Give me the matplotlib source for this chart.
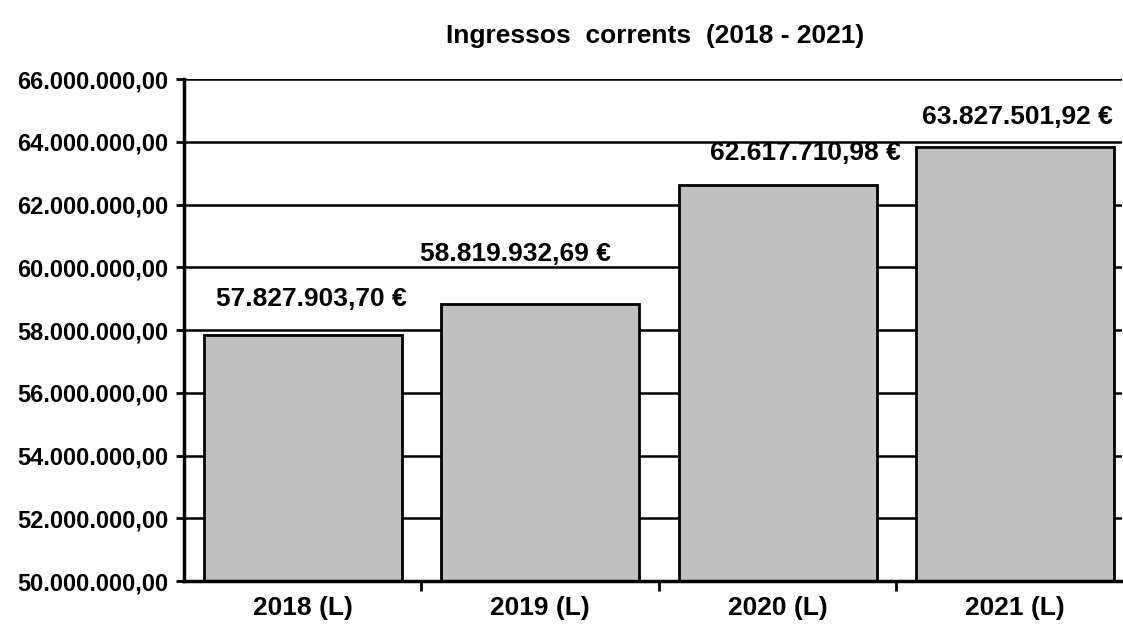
import matplotlib.pyplot as plt
from matplotlib.ticker import FuncFormatter, FixedLocator

years = ["2018 (L)", "2019 (L)", "2020 (L)", "2021 (L)"]
ingressos = [57827903.70, 58819932.69, 62617710.98, 63827501.92]
# label anchors (category x, value y) as placed in the original
label_pos = [(0.036, 58.99e6), (0.895, 60.42e6), (2.118, 63.64e6), (3.008, 64.79e6)]


def fmt_es(v, decimals=2):
    s = f"{v:,.{decimals}f}"
    return s.replace(",", "X").replace(".", ",").replace("X", ".")


plt.rcParams['font.family'] = ['Liberation Sans', 'DejaVu Sans']
plt.rcParams['font.weight'] = 'bold'

fig = plt.figure(figsize=(11.23, 6.25), dpi=100)
ax = fig.add_axes([184 / 1123, 44 / 625, 938 / 1123, 502 / 625])

x = list(range(len(years)))
ax.bar(x, ingressos, width=0.835, color="#c0c0c0", edgecolor="black",
       linewidth=2, zorder=3)

ax.set_ylim(50e6, 66e6)
ax.set_xlim(-0.5, 3.45)
ax.set_yticks([50e6 + i * 2e6 for i in range(9)])
ax.yaxis.set_major_formatter(FuncFormatter(lambda v, p: fmt_es(v)))
ax.yaxis.grid(True, color="black", linewidth=1.8, zorder=0)

ax.set_xticks(x)
ax.set_xticklabels(years)
ax.xaxis.set_minor_locator(FixedLocator([0.5, 1.5, 2.5]))
ax.tick_params(axis="x", which="major", length=0, pad=11, labelsize=19)
ax.tick_params(axis="x", which="minor", length=7, width=2, direction="out")
ax.tick_params(axis="y", length=6, width=2, labelsize=17, pad=5)

for side in ["top", "right"]:
    ax.spines[side].set_visible(False)
for side in ["left", "bottom"]:
    ax.spines[side].set_linewidth(2.5)
    ax.spines[side].set_zorder(4)

for (lx, ly), v in zip(label_pos, ingressos):
    ax.text(lx, ly, fmt_es(v) + " €", ha="center", va="center",
            fontsize=19, fontweight="bold")

fig.text(655 / 1123, 1 - 36 / 625, "Ingressos  corrents  (2018 - 2021)",
         ha="center", va="center", fontsize=19, fontweight="bold")

fig.savefig("out.png", dpi=100)
